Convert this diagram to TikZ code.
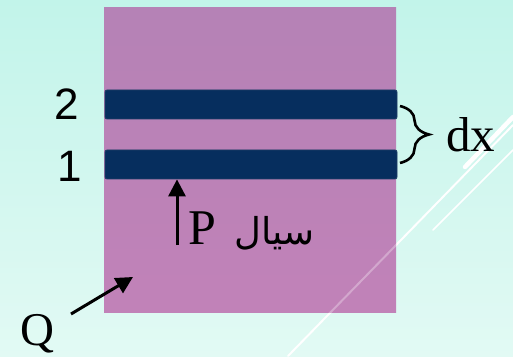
\documentclass[tikz,border=0pt]{standalone}
\usepackage{fontspec}
\setmainfont{Liberation Serif}
\newfontfamily\sansf{Liberation Sans}
\newfontfamily\arabicfont[Script=Arabic]{DejaVu Sans}
\TeXXeTstate=1
\usetikzlibrary{arrows.meta,decorations.pathreplacing}
\definecolor{bgtop}{RGB}{194,244,234}
\definecolor{bgbot}{RGB}{226,250,244}
\definecolor{ptop}{RGB}{181,130,182}
\definecolor{pbot}{RGB}{193,130,184}
\definecolor{bar}{RGB}{6,46,94}
\tikzset{
  barbox/.style={fill=bar, draw=bar!80!gray, line width=0.8pt, rounded corners=2pt,
    minimum width=292pt, minimum height=29pt, inner sep=0pt},
  numlabel/.style={font=\sansf\fontsize{44}{44}\selectfont, inner sep=0pt},
  serlabel/.style={inner sep=0pt},
  arr/.style={line width=3pt, -{Triangle[width=17pt,length=17pt]}},
  deco/.style={white, line cap=round}
}
\begin{document}
\begin{tikzpicture}[x=1pt,y=1pt]
\useasboundingbox (0,0) rectangle (513,356);
\shade[top color=bgtop, bottom color=bgbot] (0,0) rectangle (513,356);
% decorative lines
\draw[deco, line width=4.5pt] (465,189) -- (513,239);
\draw[deco, line width=1.5pt] (433,126) -- (513,206);
\draw[deco, line width=2pt] (288,0) -- (513,231);
% main box
\node[top color=ptop, bottom color=pbot, minimum width=292pt, minimum height=305pt,
      inner sep=0pt, anchor=north west] (box) at (104,349) {};
\begin{scope}
\clip (104,44) rectangle (396,349);
\draw[white, opacity=0.3, line width=2pt] (288,0) -- (513,231);
\end{scope}
% bars
\node[barbox] (bar2) at (251,251.5) {};
\node[barbox] (bar1) at (251,191.5) {};
% labels
\node[numlabel] (l2) at (67,252) {2};
\node[numlabel] (l1) at (70,190) {1};
% brace
\coordinate (bt) at (400,250);
\coordinate (bb) at (400,193);
\draw[line width=2.6pt, decorate, decoration={brace, amplitude=29pt, aspect=0.5}] (bt) -- (bb);
\node[serlabel, anchor=base west, font=\fontsize{49}{49}\selectfont] (dx) at (446,204) {dx};
% P arrow
\coordinate (ptail) at (177,111);
\draw[arr] (ptail) -- (bar1.south -| ptail);
\node[serlabel, anchor=base west, font=\fontsize{50}{50}\selectfont] (P) at (188,111) {P};
\node[serlabel, anchor=base west, font=\arabicfont\fontsize{37}{37}\selectfont] (sayyal) at (234,112) {\beginR سيال\endR};
% Q arrow
\node[serlabel, anchor=base west, font=\fontsize{47}{47}\selectfont] (Q) at (20,11) {Q};
\coordinate (qtail) at (71,42);
\coordinate (qhead) at (133,79);
\draw[arr] (qtail) -- (qhead);
\end{tikzpicture}
\end{document}
